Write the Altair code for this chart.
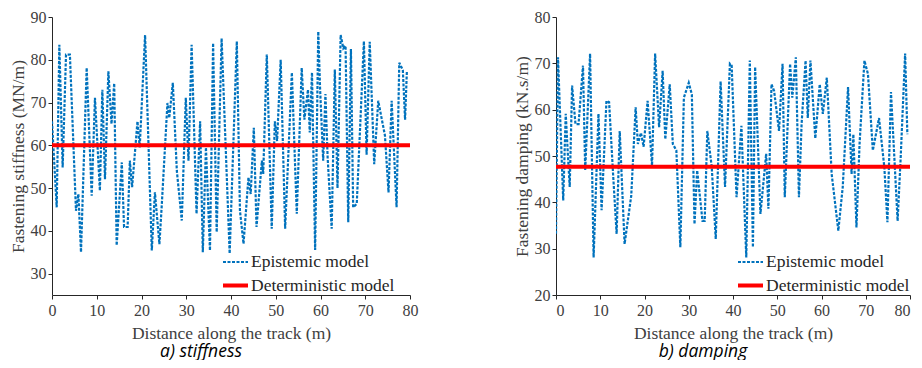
import altair as alt
import pandas as pd

series_names = ["Epistemic model", "Deterministic model"]
det_x = [0, 80]

# a) stiffness (MN/m)
stiff_x = [0.0, 1.05, 1.64, 2.38, 3.13, 4.0, 5.36, 5.9, 6.48, 7.75, 8.87, 9.6, 10.7, 11.25,
           11.84, 12.6, 13.3, 13.9, 14.45, 15.6, 16.1, 16.9, 17.4, 17.9, 19.1, 19.6, 20.8,
           22.3, 23.0, 24.0, 24.5, 25.8, 26.2, 27.0, 27.9, 29.0, 29.9, 30.5, 31.2, 32.3,
           33.1, 33.7, 34.4, 35.3, 36.0, 36.8, 37.9, 39.7, 41.3, 42.0, 42.8, 43.9, 44.4,
           45.1, 45.7, 46.9, 47.2, 48.0, 49.1, 49.8, 50.3, 51.1, 52.1, 53.6, 54.7, 55.8,
           56.4, 57.2, 57.6, 58.1, 58.8, 59.5, 59.9, 60.6, 61.1, 61.6, 62.5, 63.2, 63.8,
           64.5, 65.1, 65.6, 66.2, 66.8, 67.3, 68.1, 69.7, 70.3, 71.0, 72.0, 72.9, 74.4,
           75.2, 75.9, 77.0, 77.6, 78.4, 78.9, 79.3]
stiff_y = [65.6, 45.5, 83.5, 54.8, 81.2, 81.2, 44.7, 48.6, 35.0, 78.1, 48.2, 71.1, 49.4, 73.0,
           52.1, 77.3, 65.0, 74.5, 36.6, 56.0, 40.9, 40.9, 56.4, 50.2, 65.6, 59.5, 85.8,
           35.4, 49.0, 36.9, 45.5, 69.9, 66.4, 74.6, 54.0, 42.4, 71.1, 56.4, 83.5, 44.0,
           65.6, 35.0, 59.5, 35.4, 83.9, 39.7, 85.0, 34.7, 84.3, 44.7, 37.0, 52.5, 48.6,
           64.1, 40.9, 56.4, 53.3, 81.2, 40.5, 65.6, 61.0, 80.0, 40.5, 77.0, 44.0, 78.1,
           66.0, 73.0, 63.0, 77.0, 35.5, 86.6, 73.4, 56.4, 72.0, 57.0, 40.5, 77.7, 50.0,
           85.8, 82.7, 83.3, 42.0, 82.5, 45.5, 46.3, 84.3, 57.8, 84.2, 55.6, 70.4, 62.3,
           49.0, 70.4, 45.5, 79.3, 77.6, 66.0, 77.3]
stiff_det = 60.0

# b) damping (kN.s/m)
damp_x = [0.0, 0.45, 1.63, 2.2, 2.7, 3.1, 3.64, 4.4, 5.1, 6.1, 6.6, 7.7, 8.5, 9.6, 10.3,
          11.4, 12.0, 12.9, 13.7, 14.4, 15.5, 17.0, 18.0, 18.5, 19.2, 19.8, 20.7, 21.7,
          22.4, 23.3, 24.1, 24.7, 25.7, 26.4, 27.2, 28.1, 28.9, 30.0, 30.7, 31.3, 31.9,
          33.1, 33.6, 34.2, 35.2, 36.1, 37.2, 38.2, 39.3, 39.7, 40.8, 41.9, 43.0, 43.8,
          44.5, 45.0, 46.2, 47.5, 48.0, 48.7, 49.3, 50.4, 51.2, 51.7, 52.9, 53.4, 54.2,
          54.9, 55.5, 56.4, 56.9, 57.5, 58.6, 59.6, 60.3, 61.2, 62.3, 63.8, 64.8, 66.0,
          66.8, 67.2, 67.9, 68.6, 69.7, 70.5, 71.6, 73.0, 74.2, 74.9, 75.7, 77.2, 77.9,
          78.9, 79.4]
damp_y = [33.2, 71.3, 40.4, 59.1, 50.0, 43.3, 65.2, 56.9, 56.9, 69.5, 46.9, 72.1, 28.1, 59.1,
          38.3, 61.9, 61.6, 46.1, 33.2, 55.4, 31.0, 41.4, 60.5, 52.6, 55.0, 52.0, 61.9,
          47.9, 72.1, 56.2, 68.4, 53.6, 65.5, 52.6, 51.2, 30.3, 62.6, 65.8, 63.3, 35.3,
          46.9, 36.0, 36.0, 55.4, 47.6, 32.1, 66.1, 43.3, 69.9, 69.5, 41.1, 56.5, 28.1,
          70.6, 30.3, 69.2, 37.5, 50.5, 38.6, 65.5, 64.0, 55.4, 69.9, 41.1, 69.9, 62.6,
          71.3, 41.1, 56.9, 70.6, 58.2, 70.6, 53.8, 65.5, 59.1, 66.9, 46.1, 33.9, 43.3,
          64.9, 46.1, 54.7, 34.6, 52.6, 70.6, 67.7, 51.2, 58.2, 47.6, 35.7, 63.8, 36.0,
          49.8, 72.1, 54.7]
damp_det = 47.7

SERIF = "Liberation Serif"


def panel(xs, ys, det, ydomain, yticks, ytitle, caption, legx, legy, w, flush):
    epi = pd.DataFrame({"d": xs, "v": ys, "s": series_names[0]})
    dd = pd.DataFrame({"d": det_x, "v": [det, det], "s": series_names[1]})
    leg = alt.Legend(title=None, orient="none", legendX=legx, legendY=legy)
    x = alt.X("d:Q", scale=alt.Scale(domain=[0, 80], nice=False),
              axis=alt.Axis(values=list(range(0, 81, 10)), title="Distance along the track (m)",
                            labelFlush=flush))
    y = alt.Y("v:Q", scale=alt.Scale(domain=ydomain, nice=False, zero=False),
              axis=alt.Axis(values=yticks, title=ytitle))
    color = alt.Color("s:N", scale=alt.Scale(domain=series_names, range=["#0072BD", "#FF0000"]),
                      legend=leg)
    dash = alt.StrokeDash("s:N", scale=alt.Scale(domain=series_names, range=[[3, 1.5], [1, 0]]),
                          legend=leg)
    sw = alt.StrokeWidth("s:N", scale=alt.Scale(domain=series_names, range=[2.2, 4]), legend=leg)
    l1 = alt.Chart(epi).mark_line(clip=True).encode(x=x, y=y, color=color, strokeDash=dash,
                                                    strokeWidth=sw, order="d:Q")
    l2 = alt.Chart(dd).mark_line(clip=True).encode(x=x, y=y, color=color, strokeDash=dash,
                                                   strokeWidth=sw)
    return alt.layer(l1, l2).properties(
        width=w, height=278,
        title=alt.TitleParams(caption, orient="bottom", font="Open Sans", fontStyle="italic",
                              fontSize=17.5, fontWeight="normal", color="#000000", dx=-30, offset=1),
    )


left = panel(stiff_x, stiff_y, stiff_det, [25, 90], [30, 40, 50, 60, 70, 80, 90],
             "Fastening stiffness (MN/m)", "a) stiffness", 169, 231, 358, False)
right = panel(damp_x, damp_y, damp_det, [20, 80], [20, 30, 40, 50, 60, 70, 80],
              "Fastening damping (kN.s/m)", "b) damping", 180, 231, 354, True)

chart = alt.hconcat(left, right, spacing=95).resolve_scale(
    color="independent", strokeDash="independent", strokeWidth="independent"
).resolve_legend(
    color="independent", strokeDash="independent", strokeWidth="independent"
).properties(
    padding={"left": 1, "top": 1, "right": 0, "bottom": 0}
).configure_view(stroke=None).configure_axis(
    grid=False,
    labelFont=SERIF, labelFontSize=16, labelColor="#404040", labelPadding=2,
    titleFont=SERIF, titleFontSize=17.5, titleFontWeight="normal", titleColor="#404040",
    titlePadding=3, domainColor="#262626", tickColor="#262626", tickSize=4,
).configure_axisX(labelPadding=3, titlePadding=6).configure_legend(
    labelFont=SERIF, labelFontSize=17.5, labelColor="#262626", symbolType="stroke",
    symbolSize=625, rowPadding=-4, labelOffset=1, padding=0,
)

chart.save("out.html", embed_options={"renderer": "svg", "actions": False})
